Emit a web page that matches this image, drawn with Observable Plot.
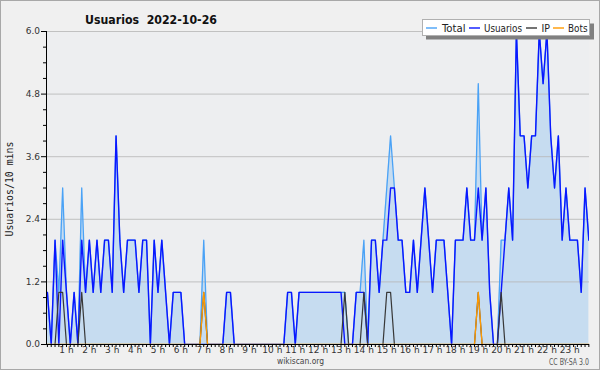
<!DOCTYPE html>
<html><head><meta charset="utf-8">
<script src="https://cdn.jsdelivr.net/npm/d3@7"></script>
<script src="https://cdn.jsdelivr.net/npm/@observablehq/plot@0.6"></script>
<style>
html,body{margin:0;padding:0;background:#f0f0f0;}
#chart{width:600px;height:370px;position:relative;overflow:hidden;}
svg{display:block;}
</style></head><body><div id="chart"></div>
<script>
// 10-minute slots 1..143 (00:10 .. 23:50)
const usuarios = [
1,0,2,0,2,1,0,1,0,2,
1,2,1,2,1,2,2,1,4,2,
1,2,2,2,1,2,2,0,2,1,
2,1,0,1,1,1,0,0,0,0,
0,0,0,0,0,0,0,1,1,0,
0,0,0,0,0,0,0,0,0,0,
0,0,0,1,1,0,1,1,1,1,
1,1,1,1,1,1,1,1,0,0,
0,1,1,1,0,2,2,1,2,2,
3,3,2,2,1,1,2,1,2,3,
2,1,2,2,2,1,0,2,2,2,
3,2,2,3,2,3,1,0,0,1,
2,3,2,6,4,4,3,4,4,6,
5,6,4,3,4,2,3,2,2,2,
1,3,2];
const ip = [
0,0,0,1,1,0,0,0,0,1,
0,0,0,0,0,0,0,0,0,0,
0,0,0,0,0,0,0,0,0,0,
0,0,0,0,0,0,0,0,0,0,
0,1,0,0,0,0,0,0,0,0,
0,0,0,0,0,0,0,0,0,0,
0,0,0,0,0,0,0,0,0,0,
0,0,0,0,0,0,0,0,1,0,
0,0,0,1,0,0,0,0,0,1,
1,0,0,0,0,0,0,0,0,0,
0,0,0,0,0,0,0,0,0,0,
0,0,0,1,0,0,0,0,0,1,
0,0,0,0,0,0,0,0,0,0,
0,0,0,0,0,0,0,0,0,0,
0,0,0];
const bots = [
0,0,0,0,0,0,0,0,0,0,
0,0,0,0,0,0,0,0,0,0,
0,0,0,0,0,0,0,0,0,0,
0,0,0,0,0,0,0,0,0,0,
0,1,0,0,0,0,0,0,0,0,
0,0,0,0,0,0,0,0,0,0,
0,0,0,0,0,0,0,0,0,0,
0,0,0,0,0,0,0,0,0,0,
0,0,0,0,0,0,0,0,0,0,
0,0,0,0,0,0,0,0,0,0,
0,0,0,0,0,0,0,0,0,0,
0,0,0,1,0,0,0,0,0,0,
0,0,0,0,0,0,0,0,0,0,
0,0,0,0,0,0,0,0,0,0,
0,0,0];
const total = [
1,0,2,1,3,1,0,1,0,3,
1,2,1,2,1,2,2,1,4,2,
1,2,2,2,1,2,2,0,2,1,
2,1,0,1,1,1,0,0,0,0,
0,2,0,0,0,0,0,1,1,0,
0,0,0,0,0,0,0,0,0,0,
0,0,0,1,1,0,1,1,1,1,
1,1,1,1,1,1,1,1,1,0,
0,1,1,2,0,2,2,1,2,3,
4,3,2,2,1,1,2,1,2,3,
2,1,2,2,2,1,0,2,2,2,
3,2,2,5,2,3,1,0,0,2,
2,3,2,6,4,4,3,4,4,6,
5,6,4,3,4,2,3,2,2,2,
1,3,2];
const hourLabels = ["1 h","2 h","3 h","4 h","5 h","6 h","7 h","8 h","9 h","10 h","11 h","12 h",
  "13 h","14 h","15 h","16 h","17 h","18 h","19 h","20 h","21 h","22 h","23 h"];
const yTicks = [0, 1.2, 2.4, 3.6, 4.8, 6.0];
const seriesNames = ["Total", "Usuarios", "IP", "Bots"];
const titleText = "Usuarios  2022-10-26";
const yLabel = "Usuarios/10 mins";
const footerSite = "wikiscan.org";
const footerLicense = "CC BY-SA 3.0";

// styles / layout (not data)
const seriesColors = ["#4aa2f6", "#0a16ff", "#383838", "#ff9a00"];
const xDomain = [0.76, 143.17];
const legendLayout = [
  {lx: 426, tx: 442, tw: 23.5},
  {lx: 469, tx: 484, tw: 38},
  {lx: 526, tx: 541.5, tw: 8.5},
  {lx: 553, tx: 568, tw: 19.5}
];

const rows = usuarios.map((u, i) => ({slot: i + 1, usuarios: u, ip: ip[i], bots: bots[i], total: total[i]}));
const hourSlots = hourLabels.map((_, i) => (i + 1) * 6);
const allSlots = rows.map(d => d.slot);
const minorY = d3.range(0, 6.01, 0.3).filter(v => !yTicks.some(t => Math.abs(t - v) < 1e-6));

const plot = Plot.plot({
  width: 600, height: 370,
  marginLeft: 46, marginRight: 11, marginTop: 31, marginBottom: 26,
  style: {background: "transparent", fontFamily: "'DejaVu Sans', sans-serif", fontSize: "9px", color: "#222"},
  x: {domain: xDomain, axis: null},
  y: {domain: [0, 6], axis: null},
  marks: [
    Plot.frame({fill: "#edeef0", stroke: "none"}),
    Plot.areaY(rows, {x: "slot", y: "total", fill: "#c6dcf0", clip: true}),
    Plot.gridY(yTicks.slice(1), {stroke: "#b8b8b8", strokeOpacity: 0.85}),
    Plot.lineY(rows, {x: "slot", y: "total", stroke: seriesColors[0], strokeWidth: 1.3, clip: true}),
    Plot.lineY(rows, {x: "slot", y: "usuarios", stroke: seriesColors[1], strokeWidth: 1.4, clip: true}),
    Plot.lineY(rows, {x: "slot", y: "ip", stroke: seriesColors[2], strokeWidth: 1.2, clip: true}),
    Plot.lineY(rows, {x: "slot", y: "bots", stroke: seriesColors[3], strokeWidth: 1.3, clip: true}),
    Plot.ruleY([0], {stroke: "#000"}),
    Plot.ruleX([xDomain[0]], {stroke: "#000"}),
    Plot.axisY(yTicks, {tickSize: 5, tickPadding: 1.5, tickFormat: d => d.toFixed(1), stroke: "#000", fill: "#333", label: null}),
    Plot.axisY(minorY, {tickSize: 3, tickFormat: () => "", stroke: "#000", label: null}),
    Plot.axisX(allSlots, {tickSize: 3, tickFormat: () => "", stroke: "#000", label: null}),
    Plot.axisX(hourSlots, {tickSize: 0, tickPadding: 2.5, tickFormat: d => hourLabels[hourSlots.indexOf(d)], fill: "#333", label: null})
  ]
});

const svg = d3.select(plot);
const font = "'DejaVu Sans Condensed', 'DejaVu Sans', sans-serif";

svg.append("text")
  .attr("x", 85).attr("y", 23.5)
  .attr("text-anchor", "start")
  .attr("font-family", font).attr("font-weight", "bold").attr("font-size", 12.5)
  .attr("font-stretch", "condensed")
  .attr("fill", "#111")
  .attr("textLength", 132).attr("lengthAdjust", "spacingAndGlyphs")
  .style("white-space", "pre")
  .text(titleText);

// legend
const lg = svg.append("g");
lg.append("rect").attr("x", 426).attr("y", 23.5).attr("width", 168).attr("height", 16).attr("fill", "#808080");
lg.append("rect").attr("x", 422.5).attr("y", 19.5).attr("width", 167).attr("height", 16)
  .attr("fill", "#fff").attr("stroke", "#b0b0b0");
seriesNames.forEach((name, i) => {
  const L = legendLayout[i];
  lg.append("line").attr("x1", L.lx).attr("x2", L.lx + 11).attr("y1", 28).attr("y2", 28)
    .attr("stroke", seriesColors[i]).attr("stroke-width", 1.4);
  lg.append("text").attr("x", L.tx).attr("y", 32)
    .attr("text-anchor", "start")
    .attr("font-family", font).attr("font-stretch", "condensed").attr("font-size", 11).attr("fill", "#222")
    .attr("textLength", L.tw).attr("lengthAdjust", "spacingAndGlyphs")
    .text(name);
});

// y label
svg.append("text")
  .attr("transform", "translate(13,189) rotate(-90)")
  .attr("text-anchor", "middle")
  .attr("font-family", "'DejaVu Sans Mono', monospace").attr("font-size", 10).attr("fill", "#222")
  .attr("textLength", 95).attr("lengthAdjust", "spacingAndGlyphs")
  .text(yLabel);

svg.append("text").attr("x", 277).attr("y", 364)
  .attr("text-anchor", "start")
  .attr("font-family", font).attr("font-size", 9).attr("fill", "#444")
  .attr("textLength", 47).attr("lengthAdjust", "spacingAndGlyphs")
  .text(footerSite);
svg.append("text").attr("x", 549).attr("y", 364.5)
  .attr("text-anchor", "start")
  .attr("font-family", font).attr("font-size", 8).attr("fill", "#555")
  .attr("textLength", 40).attr("lengthAdjust", "spacingAndGlyphs")
  .text(footerLicense);

svg.append("rect").attr("x", 0.5).attr("y", 0.5).attr("width", 599).attr("height", 369)
  .attr("fill", "none").attr("stroke", "#a8a8a8");

document.getElementById("chart").appendChild(plot);
</script>
</body></html>
